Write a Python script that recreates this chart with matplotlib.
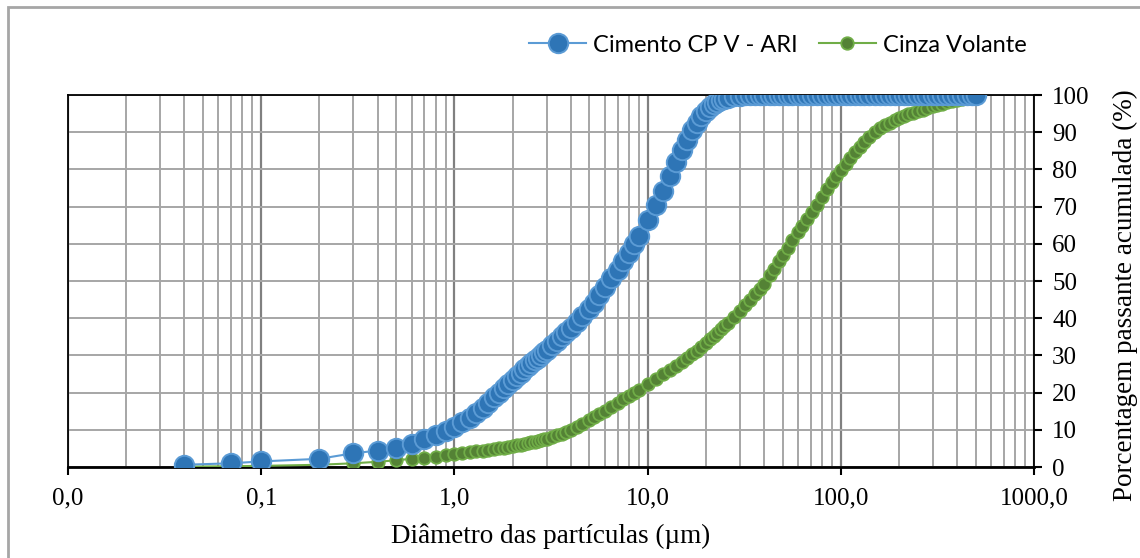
import matplotlib
matplotlib.use("Agg")
import matplotlib.pyplot as plt
from matplotlib.ticker import FixedLocator, FixedFormatter, NullFormatter
from matplotlib.patches import Rectangle

# particle size classes (um)
sizes = [0.04, 0.07, 0.1, 0.2, 0.3, 0.4, 0.5, 0.6, 0.7, 0.8, 0.9,
         1.0, 1.1, 1.2, 1.3, 1.4, 1.5, 1.6, 1.7, 1.8, 1.9,
         2.0, 2.1, 2.2, 2.3, 2.4, 2.5, 2.6, 2.7, 2.8, 2.9,
         3.0, 3.2, 3.4, 3.6, 3.8, 4.0, 4.3, 4.6, 5.0, 5.3, 5.6,
         6.0, 6.5, 7.0, 7.5, 8.0, 8.5, 9.0,
         10, 11, 12, 13, 14, 15, 16, 17, 18, 19,
         20, 21, 22, 23, 24, 25, 26, 28, 30, 32,
         34, 36, 38, 40, 43, 45, 48, 50, 53, 56,
         60, 63, 67, 71, 75, 80, 85, 90, 95, 100,
         106, 112, 118, 125, 132, 140, 150, 160, 170, 180,
         190, 200, 212, 224, 236, 250, 265, 280, 300, 315,
         335, 355, 375, 400, 425, 450, 475, 500]

# cumulative passing (%)
cimento = [0.6, 1.0, 1.5, 2.2, 3.7, 4.4, 5.1, 6.3, 7.4, 8.6, 9.7,
           10.8, 12.0, 13.3, 14.6, 15.9, 17.3, 18.7, 20.0, 21.2, 22.4,
           23.5, 24.5, 25.4, 26.3, 27.1, 27.9, 28.7, 29.4, 30.1, 30.8,
           31.5, 32.8, 34.0, 35.2, 36.3, 37.4, 39.0, 40.6, 42.6, 44.1, 46.3,
           48.3, 50.7, 53.0, 55.3, 57.6, 59.9, 62.2,
           66.5, 70.4, 74.3, 78.2, 81.9, 85.2, 88.0, 90.5, 92.6, 94.3,
           95.7, 96.7, 97.5, 98.1, 98.6, 99.0, 99.3, 99.6, 99.8, 99.9,
           100, 100, 100, 100, 100, 100, 100, 100, 100, 100,
           100, 100, 100, 100, 100, 100, 100, 100, 100, 100,
           100, 100, 100, 100, 100, 100, 100, 100, 100, 100,
           100, 100, 100, 100, 100, 100, 100, 100, 100, 100,
           100, 100, 100, 100, 100, 100, 100, 100]

cinza = [0.1, 0.2, 0.3, 0.6, 1.0, 1.4, 1.8, 2.2, 2.5, 2.8, 3.1,
         3.4, 3.7, 4.0, 4.2, 4.4, 4.6, 4.8, 5.0, 5.2, 5.4,
         5.6, 5.8, 6.0, 6.2, 6.4, 6.6, 6.8, 7.0, 7.2, 7.4,
         7.6, 8.0, 8.5, 9.0, 9.5, 10.0, 10.8, 11.6, 12.6, 13.4, 14.2,
         15.1, 16.2, 17.2, 18.2, 19.1, 19.9, 20.7,
         22.2, 23.6, 24.9, 26.1, 27.2, 28.3, 29.3, 30.3, 31.2, 32.3,
         33.4, 34.3, 35.3, 36.1, 37.0, 37.8, 38.6, 40.3, 41.9, 43.6,
         45.0, 46.4, 47.8, 49.2, 51.6, 53.2, 55.5, 57.0, 59.0, 60.9,
         63.2, 64.8, 66.8, 68.6, 70.4, 72.6, 74.6, 76.6, 78.3, 79.8,
         81.5, 83.1, 84.6, 86.1, 87.4, 88.7, 90.1, 91.0, 91.9, 92.6,
         93.2, 93.8, 94.3, 94.8, 95.2, 95.7, 96.1, 96.5, 97.0, 97.3,
         97.7, 98.0, 98.3, 98.7, 99.0, 99.3, 99.6, 99.9]

xticks = [0.01, 0.1, 1, 10, 100, 1000]
xlabels = ["0,0", "0,1", "1,0", "10,0", "100,0", "1000,0"]
yticks = list(range(0, 101, 10))

serif = ["Liberation Serif", "DejaVu Serif"]
legend_font = ["Lato", "DejaVu Sans"]

fig = plt.figure(figsize=(11.4, 5.58), dpi=100)
ax = fig.add_axes([68 / 1140, 1 - 467 / 558, (1034 - 68) / 1140, (467 - 95) / 558])

ax.plot(sizes, cinza, color="#70AD47", lw=1.5, marker="o", ms=9,
        mfc="#548235", mec="#70AD47", mew=1.3, label="Cinza Volante", zorder=3)
ax.plot(sizes, cimento, color="#5B9BD5", lw=1.5, marker="o", ms=14,
        mfc="#2E75B6", mec="#5B9BD5", mew=1.4, label="Cimento CP V - ARI", zorder=4)

ax.set_xscale("log")
ax.set_xlim(0.01, 1000)
ax.set_ylim(0, 100)

ax.xaxis.set_major_locator(FixedLocator(xticks))
ax.xaxis.set_major_formatter(FixedFormatter(xlabels))
ax.xaxis.set_minor_formatter(NullFormatter())
ax.yaxis.set_major_locator(FixedLocator(yticks))

ax.grid(True, which="major", axis="x", color="#808080", lw=1.6)
ax.grid(True, which="minor", axis="x", color="#A6A6A6", lw=1.4)
ax.grid(True, which="major", axis="y", color="#A6A6A6", lw=1.4)
ax.set_axisbelow(True)

ax.yaxis.tick_right()
ax.yaxis.set_label_position("right")
ax.tick_params(axis="x", which="major", direction="out", length=6, width=1.5, pad=9)
ax.tick_params(axis="x", which="minor", length=0)
ax.tick_params(axis="y", direction="out", length=6, width=1.5, pad=7)
for lab in ax.get_xticklabels() + ax.get_yticklabels():
    lab.set_family(serif)
    lab.set_fontsize(18)

for s in ax.spines.values():
    s.set_color("black")
    s.set_linewidth(1.3)
ax.spines["bottom"].set_linewidth(2)

ax.set_xlabel("Diâmetro das partículas (µm)", family=serif, fontsize=19.5, labelpad=10)
ax.set_ylabel("Porcentagem passante acumulada (%)", family=serif, fontsize=19.5)
ax.yaxis.set_label_coords((1113 - 68) / 966, (467 - 295) / 372)

h, l = ax.get_legend_handles_labels()
leg = fig.legend(h[::-1], l[::-1], loc="center right", bbox_to_anchor=(1036 / 1140, 1 - 45 / 558),
                 ncol=2, frameon=False, prop={"family": legend_font, "size": 17},
                 handlelength=2.4, handletextpad=0.3, columnspacing=0.9, borderaxespad=0)

# outer chart frame
fig.patches.append(Rectangle((8 / 1140, -0.05), 1.1, 1.05 - 7 / 558, transform=fig.transFigure,
                             fill=False, edgecolor="#A6A6A6", lw=2, clip_on=False))

fig.savefig("out.png", dpi=100)
